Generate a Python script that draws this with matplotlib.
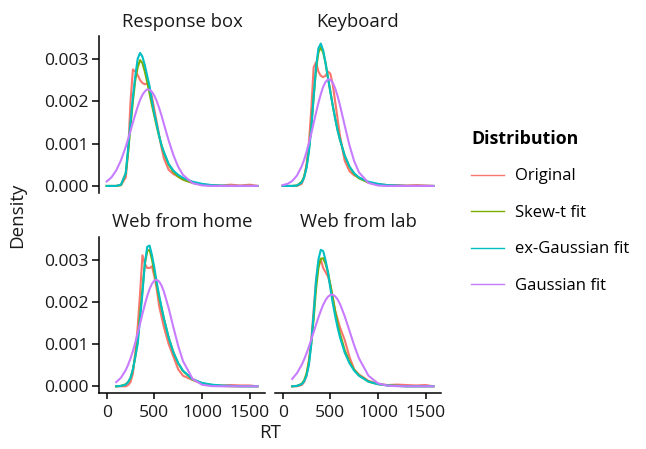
import numpy as np
import matplotlib
matplotlib.use("Agg")
from matplotlib import pyplot as plt
from matplotlib.lines import Line2D

plt.rcParams['font.family'] = ['Open Sans', 'DejaVu Sans']

nan = np.nan

# RT grid (ms) the density curves were read at
rt = [0, 50, 100, 150, 200, 225, 250, 275, 300, 325, 350, 375, 400, 425, 450, 475,
      500, 525, 550, 575, 600, 650, 700, 750, 800, 900, 1000, 1100, 1200, 1300,
      1400, 1500, 1580]

panels = ["Response box", "Keyboard", "Web from home", "Web from lab"]
dists = ["Original", "Skew-t fit", "ex-Gaussian fit", "Gaussian fit"]
colors = ["#F8766D", "#7CAE00", "#00BFC4", "#C77CFF"]

# Response box
rb_original = [0, 0, 0, 0.00002, 0.0002, 0.0008, 0.002, 0.00275, 0.0027, 0.00262, 0.0025,
               0.00243, 0.0024, 0.00242, 0.0023, 0.0021, 0.0018, 0.0015, 0.0012, 0.0009,
               0.00065, 0.00038, 0.00028, 0.00022, 0.00015, 0.00008, 0.00003, 0.00002,
               0.00001, 0.00003, 0.00001, 0.00003, 0]
rb_skewt = [0, 0, 0, 0.00002, 0.0003, 0.0008, 0.0014, 0.002, 0.0025, 0.0028, 0.00297,
            0.0029, 0.0027, 0.00245, 0.00218, 0.0019, 0.00165, 0.0014, 0.00117, 0.00096,
            0.00078, 0.0005, 0.00033, 0.00022, 0.00015, 0.00007, 0.00003, 0.00001, 0, 0,
            0, 0, 0]
rb_exgauss = [0, 0, 0, 0.00003, 0.0003, 0.0009, 0.0015, 0.0021, 0.0026, 0.003, 0.00314,
              0.00305, 0.00285, 0.0026, 0.00235, 0.002, 0.0017, 0.00145, 0.00118, 0.00096,
              0.0008, 0.00052, 0.00036, 0.00026, 0.00019, 0.0001, 0.00005, 0.00002,
              0.00001, 0, 0, 0, 0]
rb_gauss = [0.000104, 0.000203, 0.000365, 0.000605, 0.000925, 0.00111, 0.0013, 0.0015,
            0.00169, 0.00187, 0.00203, 0.00215, 0.00223, 0.00228, 0.00227, 0.00222,
            0.00213, 0.002, 0.00184, 0.00166, 0.00146, 0.00107, 0.000725, 0.00045,
            0.00026, 0.000067, 0.0000125, 0, 0, 0, 0, 0, 0]

# Keyboard
kb_original = [0, 0, 0, 0, 0.00005, 0.0002, 0.0005, 0.001, 0.0018, 0.0028, 0.00292,
               0.0027, 0.0026, 0.00257, 0.0026, 0.0027, 0.00265, 0.0024, 0.002, 0.0016,
               0.0012, 0.0006, 0.00035, 0.00025, 0.0002, 0.00008, 0.00004, 0.00002,
               0.00002, 0.00001, 0.00002, 0.00001, 0]
kb_skewt = [0, 0, 0, 0.00001, 0.0001, 0.00022, 0.00045, 0.00085, 0.0014, 0.0021, 0.00275,
            0.00315, 0.00327, 0.00315, 0.0029, 0.00256, 0.00223, 0.0019, 0.0016, 0.00133,
            0.0011, 0.00072, 0.00045, 0.00028, 0.00018, 0.00008, 0.00003, 0.00001, 0, 0,
            0, 0, 0]
kb_exgauss = [0, 0, 0, 0.00001, 0.00008, 0.0002, 0.00042, 0.0008, 0.00135, 0.0021, 0.0028,
              0.00325, 0.00336, 0.0032, 0.0029, 0.00255, 0.00222, 0.0019, 0.0016, 0.00132,
              0.0011, 0.00072, 0.00046, 0.0003, 0.0002, 0.0001, 0.00005, 0.00002, 0.00001,
              0, 0, 0, 0]
kb_gauss = [0.000019, 0.000049, 0.000115, 0.000244, 0.000465, 0.000617, 0.000799,
            0.001006, 0.001236, 0.00148, 0.001725, 0.00196, 0.002168, 0.00234, 0.002457,
            0.002515, 0.002508, 0.002437, 0.002308, 0.00213, 0.001914, 0.00143, 0.000963,
            0.000584, 0.00032, 0.00007, 0.00001, 0, 0, 0, 0, 0, 0]

# Web from home
wh_original = [nan, nan, 0, 0, 0, 0.00003, 0.0001, 0.0003, 0.0008, 0.0014, 0.0022, 0.0031,
               0.0029, 0.0028, 0.0028, 0.00284, 0.0026, 0.0023, 0.0019, 0.00165, 0.0014,
               0.001, 0.0007, 0.0004, 0.00025, 0.00015, 0.00006, 0.00003, 0.00002, 0.00003,
               0.00002, 0.00002, 0]
wh_skewt = [nan, nan, 0, 0.00001, 0.00005, 0.0001, 0.0002, 0.0004, 0.0007, 0.0011, 0.0017,
            0.0023, 0.0029, 0.0032, 0.00323, 0.003, 0.0027, 0.0024, 0.0021, 0.00185, 0.0016,
            0.00115, 0.0008, 0.00054, 0.00036, 0.00016, 0.00007, 0.00003, 0.00001, 0, 0,
            0, 0]
wh_exgauss = [nan, nan, 0, 0.00001, 0.00004, 0.0001, 0.0002, 0.0004, 0.0007, 0.001, 0.0016,
              0.0022, 0.0029, 0.0033, 0.00333, 0.0031, 0.0028, 0.00245, 0.00215, 0.00187,
              0.0016, 0.00115, 0.0008, 0.00055, 0.00037, 0.00017, 0.00008, 0.00004,
              0.00002, 0.00001, 0, 0, 0]
wh_gauss = [nan, nan, 0.0000988, 0.000204, 0.000384, 0.00051, 0.00066, 0.000837, 0.001036,
            0.001254, 0.001482, 0.001713, 0.001935, 0.002135, 0.002303, 0.002428, 0.002502,
            0.002519, 0.002479, 0.002384, 0.00224, 0.001847, 0.00139, 0.000954, 0.000597,
            0.000178, 0.0000367, 0.0000052, 0, 0, 0, 0, 0]

# Web from lab
wl_original = [nan, nan, 0, 0, 0.00003, 0.0001, 0.00025, 0.0006, 0.0011, 0.0018, 0.0025,
               0.0029, 0.003, 0.0028, 0.0027, 0.0026, 0.0024, 0.0021, 0.0018, 0.0016,
               0.0014, 0.0011, 0.0007, 0.0004, 0.00028, 0.00013, 0.00006, 0.00003, 0.00004,
               0.00003, 0.00002, 0.00003, 0]
wl_skewt = [nan, nan, 0, 0.00001, 0.00006, 0.00014, 0.0003, 0.00058, 0.001, 0.0016, 0.0023,
            0.0028, 0.00302, 0.00303, 0.0029, 0.0027, 0.0024, 0.0021, 0.00178, 0.0015,
            0.00125, 0.00086, 0.00058, 0.00039, 0.00026, 0.00011, 0.00005, 0.00002,
            0.00001, 0, 0, 0, 0]
wl_exgauss = [nan, nan, 0, 0.00001, 0.00005, 0.00012, 0.00025, 0.0005, 0.001, 0.0017,
              0.0025, 0.003, 0.00323, 0.0032, 0.00298, 0.0027, 0.00232, 0.00197, 0.00167,
              0.0014, 0.00117, 0.0008, 0.00055, 0.00037, 0.00025, 0.00011, 0.00005,
              0.00002, 0.00001, 0, 0, 0, 0]
wl_gauss = [nan, nan, 0.000175, 0.00031, 0.000509, 0.000635, 0.000778, 0.000936, 0.001105,
            0.00128, 0.001458, 0.00163, 0.001788, 0.001928, 0.00204, 0.00212, 0.002163,
            0.002167, 0.002132, 0.002059, 0.001953, 0.001663, 0.001316, 0.000969, 0.000662,
            0.000249, 0.00007, 0.0000146, 0.0000023, 0, 0, 0, 0]

curves = [
    [rb_original, rb_skewt, rb_exgauss, rb_gauss],
    [kb_original, kb_skewt, kb_exgauss, kb_gauss],
    [wh_original, wh_skewt, wh_exgauss, wh_gauss],
    [wl_original, wl_skewt, wl_exgauss, wl_gauss],
]

fig = plt.figure(figsize=(6.46, 4.49), dpi=100)

# panel boxes in figure fractions: left, bottom, width, height
boxes = [
    [0.1533, 0.5702, 0.257, 0.3497],
    [0.4257, 0.5702, 0.257, 0.3497],
    [0.1533, 0.1240, 0.257, 0.3488],
    [0.4257, 0.1240, 0.257, 0.3488],
]

text_col = "#1a1a1a"
tick_fs = 12.6
for i, name in enumerate(panels):
    ax = fig.add_axes(boxes[i])
    for j in range(4):
        ax.plot(rt, curves[i][j], color=colors[j], lw=1.5, solid_joinstyle="round")
    ax.set_xlim(-80, 1660)
    ax.set_ylim(-0.000166, 0.00354)
    ax.set_xticks([0, 500, 1000, 1500])
    ax.set_yticks([0, 0.001, 0.002, 0.003])
    ax.set_yticklabels(["0.000", "0.001", "0.002", "0.003"])
    for s in ["top", "right", "left", "bottom"]:
        ax.spines[s].set_visible(False)
    left = i % 2 == 0
    bottom = i >= 2
    if left:
        ax.spines["left"].set_visible(True)
        ax.spines["left"].set_linewidth(1.1)
    if bottom:
        ax.spines["bottom"].set_visible(True)
        ax.spines["bottom"].set_linewidth(1.1)
    ax.tick_params(axis="y", left=left, labelleft=left, length=5, width=1.1,
                   labelsize=tick_fs, labelcolor=text_col, pad=2.5)
    ax.tick_params(axis="x", bottom=bottom, labelbottom=bottom, length=4, width=1.1,
                   labelsize=tick_fs, labelcolor=text_col, pad=4.5)
    ax.set_title(name, fontsize=13.3, color=text_col, pad=6.8)

fig.text(0.027, 0.521, "Density", rotation=90, ha="center", va="center",
         fontsize=13.5, color=text_col)
fig.text(0.418, 0.0245, "RT", ha="center", va="baseline", fontsize=13.5, color=text_col)

handles = [Line2D([], [], color=c, lw=1.0) for c in colors]
leg = fig.legend(handles, dists, loc="upper left", bbox_to_anchor=(0.706, 0.744),
                 frameon=False, title="Distribution", fontsize=12,
                 title_fontproperties={"weight": "bold", "size": 12.8},
                 handlelength=2.0, handletextpad=0.66, labelspacing=1.23)
leg._legend_box.align = "left"

fig.savefig("out.png", dpi=100)
